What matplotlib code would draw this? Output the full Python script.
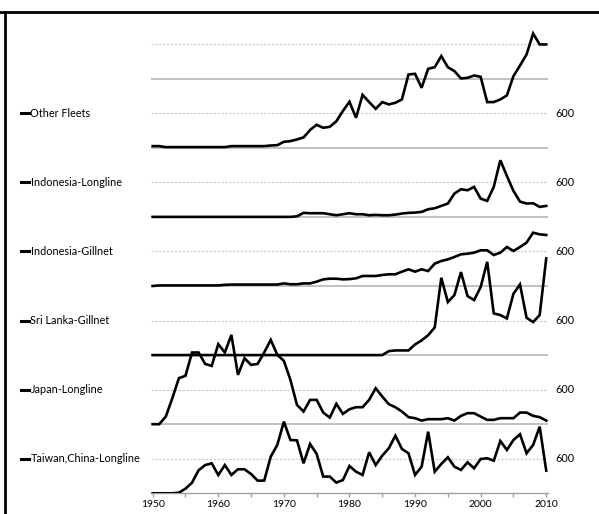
import matplotlib
matplotlib.use("Agg")
import matplotlib.pyplot as plt
from matplotlib.lines import Line2D
from matplotlib.transforms import blended_transform_factory

plt.rcParams['font.family'] = ['Lato', 'DejaVu Sans']

years = list(range(1950, 2011))

taiwan = [0, 0, 0, 0, 10, 80, 185, 400, 490, 520,
          318, 490, 318, 417, 417, 335, 220, 220, 636, 840,
          1245, 925, 920, 520, 856, 683, 290, 290, 185, 230,
          474, 375, 318, 712, 490, 653, 782, 1000, 770, 695,
          318, 462, 1070, 375, 509, 625, 462, 405, 538, 434,
          596, 608, 566, 908, 752, 925, 1025, 695, 839, 1157,
          393]
japan = [0, 0, 132, 452, 800, 840, 1245, 1245, 1047, 1012,
         1390, 1245, 1551, 856, 1146, 1030, 1047, 1245, 1464, 1204,
         1100, 770, 335, 220, 422, 422, 202, 115, 353, 179,
         260, 295, 295, 422, 625, 480, 347, 295, 220, 122,
         104, 63, 87, 87, 87, 104, 63, 145, 191, 191,
         132, 75, 75, 104, 104, 104, 202, 202, 145, 122,
         63]
sri_lanka = [0, 0, 0, 0, 0, 0, 0, 0, 0, 0,
             0, 0, 0, 0, 0, 0, 0, 0, 0, 0,
             0, 0, 0, 0, 0, 0, 0, 0, 0, 0,
             0, 0, 0, 0, 0, 0, 69, 81, 81, 81,
             185, 255, 345, 480, 1343, 921, 1042, 1442, 1025, 955,
             1181, 1620, 724, 695, 637, 1065, 1228, 648, 573, 695,
             1680]
indo_gillnet = [0, 10, 10, 10, 10, 10, 10, 10, 10, 10,
                10, 20, 25, 25, 25, 25, 25, 25, 25, 25,
                45, 30, 30, 45, 45, 75, 115, 127, 127, 115,
                120, 133, 174, 174, 174, 191, 203, 203, 249, 290,
                249, 290, 260, 388, 434, 463, 504, 550, 561, 579,
                620, 620, 538, 579, 677, 608, 677, 753, 926, 897,
                886]
indo_longline = [0, 0, 0, 0, 0, 0, 0, 0, 0, 0,
                 0, 0, 0, 0, 0, 0, 0, 0, 0, 0,
                 0, 0, 10, 70, 64, 64, 64, 46, 29, 46,
                 64, 46, 46, 29, 35, 29, 29, 40, 58, 70,
                 75, 87, 133, 150, 191, 232, 405, 480, 463, 521,
                 318, 278, 521, 984, 712, 451, 266, 232, 237, 174,
                 191]
other = [29, 29, 12, 12, 12, 12, 12, 12, 12, 12,
         12, 12, 29, 29, 29, 29, 29, 29, 40, 46,
         104, 116, 145, 180, 310, 400, 347, 365, 460, 640,
         800, 521, 920, 794, 677, 794, 753, 782, 840, 1273,
         1285, 1042, 1372, 1400, 1593, 1400, 1332, 1204, 1215, 1256,
         1233, 794, 794, 840, 910, 1244, 1429, 1621, 1985, 1795,
         1795]

series = [taiwan, japan, sri_lanka, indo_gillnet, indo_longline, other]
names = ['Taiwan,China-Longline', 'Japan-Longline', 'Sri Lanka-Gillnet',
         'Indonesia-Gillnet', 'Indonesia-Longline', 'Other Fleets']
step = 1200

fig = plt.figure(figsize=(5.99, 5.14), dpi=100)
ax = fig.add_axes([0.2516, 0.0403, 0.6636, 0.9074])

# grid: solid at panel baselines, dotted at the 600 level
for k in range(1, 7):
    ax.axhline(k * step, color='#b0b0b0', lw=1.1, zorder=1)
for k in range(7):
    ax.axhline(k * step + 600, color='#c8c8c8', lw=0.8, ls=(0, (2, 1.5)), zorder=1)

for i, vals in enumerate(series):
    ax.plot(years, [v + i * step for v in vals], color='black', lw=1.9,
            solid_joinstyle='miter', zorder=3)

ax.set_xlim(1949.7, 2010.3)
ax.set_ylim(0, 8100)
for s in ['left', 'right', 'top']:
    ax.spines[s].set_visible(False)
ax.spines['bottom'].set_color('#a0a0a0')
ax.spines['bottom'].set_linewidth(1.0)
ax.set_yticks([])
ax.set_xticks(list(range(1950, 2011, 5)))
ax.set_xticklabels([str(y) if y % 10 == 0 else '' for y in range(1950, 2011, 5)])
ax.tick_params(axis='x', direction='out', length=3, color='#a0a0a0', width=1,
               labelsize=7.5, pad=2)

trans = blended_transform_factory(fig.transFigure, ax.transData)
for i, name in enumerate(names):
    yv = i * step + 600
    fig.add_artist(Line2D([21 / 599, 29 / 599], [yv, yv], transform=trans,
                          color='black', lw=2.2))
    fig.text(30.5 / 599, yv, name, transform=trans, fontsize=7.8,
             va='center', ha='left')
    fig.text(555 / 599, yv, '600', transform=trans, fontsize=7.8,
             va='center', ha='left')

# page border around the figure
fig.add_artist(Line2D([0, 1], [1 - 12 / 514, 1 - 12 / 514],
                      transform=fig.transFigure, color='black', lw=2))
fig.add_artist(Line2D([5 / 599, 5 / 599], [0, 1 - 12 / 514],
                      transform=fig.transFigure, color='black', lw=2))

fig.savefig('out.png', dpi=100)
